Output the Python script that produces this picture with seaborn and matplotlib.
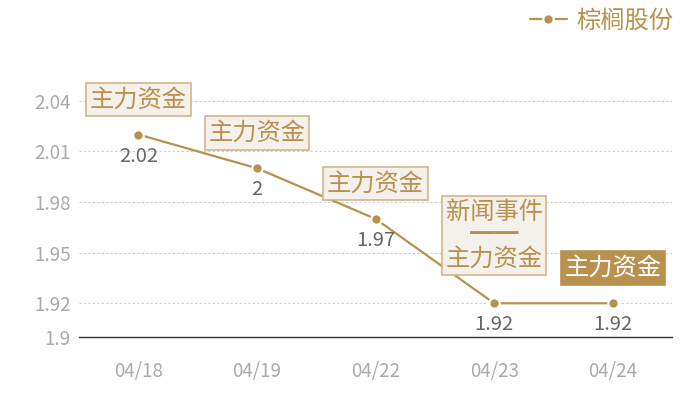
import matplotlib
matplotlib.use("Agg")
import matplotlib.pyplot as plt
import pandas as pd
import seaborn as sns
from matplotlib.lines import Line2D

# data
dates = ["04/18", "04/19", "04/22", "04/23", "04/24"]
prices = [2.02, 2.00, 1.97, 1.92, 1.92]
price_labels = ["2.02", "2", "1.97", "1.92", "1.92"]
event_labels = ["主力资金", "主力资金", "主力资金", "新闻事件\n━━\n主力资金", "主力资金"]
series_name = "棕榈股份"
y_ticks = [1.9, 1.92, 1.95, 1.98, 2.01, 2.04]
y_tick_labels = ["1.9", "1.92", "1.95", "1.98", "2.01", "2.04"]

GOLD = "#b8914f"
LIGHT_BOX = "#f4f0eb"
BOX_EDGE = "#d0b68a"

sns.set_theme(style="white")
plt.rcParams["font.family"] = ["Noto Sans CJK SC", "DejaVu Sans"]

df = pd.DataFrame({"date": dates, "price": prices})

fig = plt.figure(figsize=(7, 4), dpi=100)
ax = fig.add_axes([0.113, 0.1575, 0.847, 0.675])

sns.lineplot(data=df, x="date", y="price", ax=ax, color=GOLD, linewidth=1.6,
             marker="o", markersize=7.5, markeredgecolor="white",
             markeredgewidth=1.5, sort=False)

ax.set_xlim(-0.5, len(dates) - 0.5)
ax.set_ylim(1.9, 2.06)
ax.set_yticks(y_ticks)
ax.set_yticklabels(y_tick_labels)
ax.set_xlabel("")
ax.set_ylabel("")
ax.tick_params(axis="y", colors="#aaaaaa", labelsize=13.5, length=0, pad=6)
ax.tick_params(axis="x", colors="#aaaaaa", labelsize=13.5, length=0, pad=17)

for y in y_ticks[1:]:
    ax.axhline(y, color="#cccccc", linewidth=0.8, linestyle=(0, (2, 2)), zorder=0)

for side in ["top", "right", "left"]:
    ax.spines[side].set_visible(False)
ax.spines["bottom"].set_color("#333333")
ax.spines["bottom"].set_linewidth(1.0)

for i, (p, lab, ev) in enumerate(zip(prices, price_labels, event_labels)):
    ax.annotate(lab, (i, p), xytext=(0, -8), textcoords="offset points",
                ha="center", va="top", fontsize=14.5, color="#666666")
    last = i == len(prices) - 1
    lift = 16 if "\n" not in ev else 23
    ax.annotate(ev, (i, p), xytext=(0, lift), textcoords="offset points",
                ha="center", va="bottom", fontsize=17.5, linespacing=0.85,
                color="white" if last else GOLD,
                bbox=dict(boxstyle="square,pad=0.15",
                          facecolor=GOLD if last else LIGHT_BOX,
                          edgecolor=GOLD if last else BOX_EDGE, linewidth=1.2))

handle = Line2D([], [], color=GOLD, linewidth=1.6, marker="o", markersize=7.5,
                markeredgecolor="white", markeredgewidth=1.5)
leg = fig.legend([handle], [series_name], loc="upper right",
                 bbox_to_anchor=(0.993, 1.035), frameon=False, fontsize=17.5,
                 handlelength=1.5, handletextpad=0.4)
for t in leg.get_texts():
    t.set_color(GOLD)

fig.savefig("out.png", dpi=100)
